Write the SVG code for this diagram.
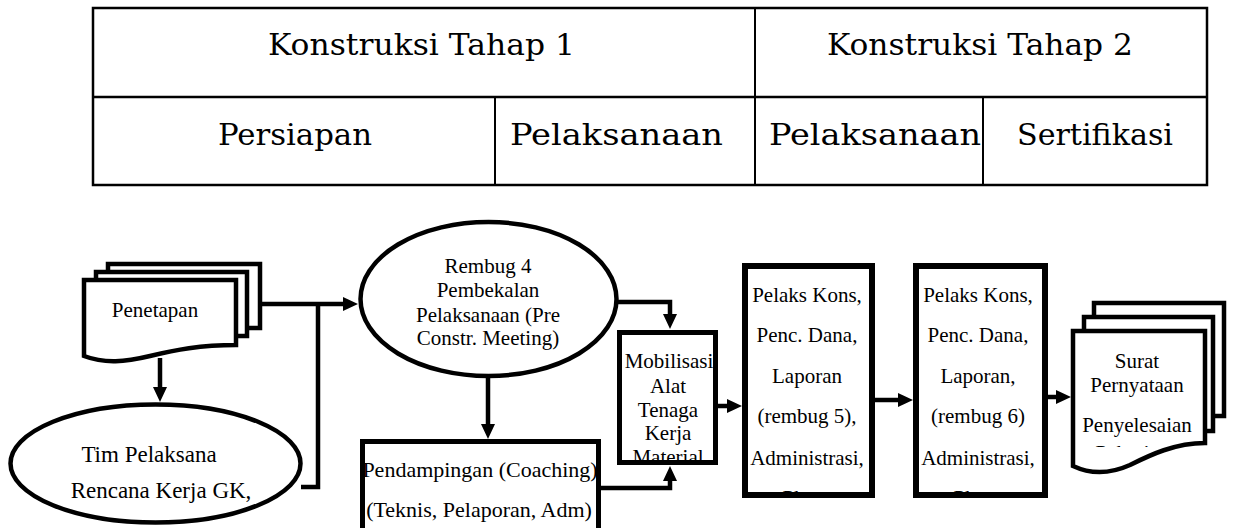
<svg xmlns="http://www.w3.org/2000/svg" width="1233" height="528" viewBox="0 0 1233 528">
<style>
.tl{stroke:#000;stroke-width:2.5;fill:none}
.tv{stroke:#000;stroke-width:2;fill:none}
.tt{font-family:"DejaVu Serif",serif;font-size:30px;fill:#000}
.sh{fill:#fff;stroke:#000;stroke-width:4.5}
.bx{fill:#fff;stroke:#000;stroke-width:6}
.ft{font-family:"Liberation Serif","Times New Roman",serif;font-size:21px;fill:#000;text-anchor:middle}
.lg{font-size:23px}
.md{font-size:22px}
.cn{fill:none;stroke:#000;stroke-width:4.5}
</style>
<defs>
<marker id="ah" markerUnits="userSpaceOnUse" markerWidth="16" markerHeight="16" refX="0" refY="7" orient="auto">
<path d="M0,0 L15,7 L0,14 Z" fill="#000"/>
</marker>
<clipPath id="cMob"><rect x="622" y="335" width="92" height="125"/></clipPath>
<clipPath id="cB1"><rect x="745" y="269" width="127" height="223"/></clipPath>
<clipPath id="cB2"><rect x="916" y="269" width="129" height="223"/></clipPath>
<clipPath id="cSur"><rect x="1073" y="331" width="132" height="116"/></clipPath>
</defs>

<g id="table">
<rect x="93" y="8" width="1114" height="177" class="tl"/>
<line x1="93" y1="97" x2="1207" y2="97" class="tl"/>
<line x1="755" y1="8" x2="755" y2="185" class="tv"/>
<line x1="495" y1="97" x2="495" y2="185" class="tv"/>
<line x1="983" y1="97" x2="983" y2="185" class="tv"/>
<text class="tt" x="268" y="55" textLength="307" lengthAdjust="spacingAndGlyphs">Konstruksi Tahap 1</text>
<text class="tt" x="827" y="55" textLength="306" lengthAdjust="spacingAndGlyphs">Konstruksi Tahap 2</text>
<text class="tt" x="218" y="145" textLength="154" lengthAdjust="spacingAndGlyphs">Persiapan</text>
<text class="tt" x="510" y="145" textLength="213" lengthAdjust="spacingAndGlyphs">Pelaksanaan</text>
<text class="tt" x="769" y="145" textLength="212" lengthAdjust="spacingAndGlyphs">Pelaksanaan</text>
<text class="tt" x="1017" y="145" textLength="156" lengthAdjust="spacingAndGlyphs">Sertifikasi</text>
</g>

<g id="connectors">
<path class="cn" d="M260,304 H343" marker-end="url(#ah)"/>
<path class="cn" d="M301,487 H318 V304"/>
<path class="cn" d="M160,358 V387" marker-end="url(#ah)"/>
<path class="cn" d="M488,376 V424" marker-end="url(#ah)"/>
<path class="cn" d="M614,302 H670 V314" marker-end="url(#ah)"/>
<path class="cn" d="M598,488 H670 V481" marker-end="url(#ah)"/>
<path class="cn" d="M715,406 H727" marker-end="url(#ah)"/>
<path class="cn" d="M872,400 H898" marker-end="url(#ah)"/>
<path class="cn" d="M1045,397 H1056" marker-end="url(#ah)"/>
</g>

<g id="penetapan">
<rect class="sh" x="108" y="264" width="152" height="64"/>
<rect class="sh" x="96" y="272" width="151" height="64"/>
<path class="sh" d="M84,280 H236 V345 C200,345 175,350 150,356 C125,362 105,364 84,356 Z"/>
<text class="ft" x="155" y="317">Penetapan</text>
</g>

<g id="tim-pelaksana">
<ellipse class="sh" cx="155.5" cy="463.5" rx="145" ry="59"/>
<text class="ft lg" x="149" y="462">Tim Pelaksana</text>
<text class="ft lg" x="161" y="498">Rencana Kerja GK,</text>
</g>

<g id="rembug">
<ellipse class="sh" cx="488.5" cy="299" rx="128" ry="77"/>
<text class="ft" x="488" y="273">Rembug 4</text>
<text class="ft" x="488" y="297">Pembekalan</text>
<text class="ft" x="488" y="322">Pelaksanaan (Pre</text>
<text class="ft" x="488" y="345">Constr. Meeting)</text>
</g>

<g id="pendampingan">
<rect class="bx" x="362.5" y="441.5" width="236" height="100" style="stroke-width:5"/>
<text class="ft md" x="480" y="477">Pendampingan (Coaching)</text>
<text class="ft md" x="479" y="517">(Teknis, Pelaporan, Adm)</text>
</g>

<g id="mobilisasi">
<rect class="bx" x="619.5" y="332.5" width="96" height="130" style="stroke-width:5"/>
<g clip-path="url(#cMob)">
<text class="ft" x="669" y="368">Mobilisasi</text>
<text class="ft" x="668" y="393">Alat</text>
<text class="ft" x="668" y="417">Tenaga</text>
<text class="ft" x="668" y="440">Kerja</text>
<text class="ft" x="668" y="464">Material</text>
</g>
</g>

<g id="pelaks-1">
<rect class="bx" x="745" y="266" width="127" height="229"/>
<g clip-path="url(#cB1)">
<text class="ft" x="807" y="302">Pelaks Kons,</text>
<text class="ft" x="807" y="342">Penc. Dana,</text>
<text class="ft" x="807" y="383">Laporan</text>
<text class="ft" x="807" y="423">(rembug 5),</text>
<text class="ft" x="807" y="465">Administrasi,</text>
<text class="ft" x="807" y="505">Photo</text>
</g>
</g>

<g id="pelaks-2">
<rect class="bx" x="916" y="266" width="129" height="229"/>
<g clip-path="url(#cB2)">
<text class="ft" x="978" y="302">Pelaks Kons,</text>
<text class="ft" x="978" y="342">Penc. Dana,</text>
<text class="ft" x="978" y="383">Laporan,</text>
<text class="ft" x="978" y="423">(rembug 6)</text>
<text class="ft" x="978" y="465">Administrasi,</text>
<text class="ft" x="978" y="505">Photo</text>
</g>
</g>

<g id="surat">
<rect class="sh" x="1094" y="303" width="130" height="113"/>
<rect class="sh" x="1084" y="317" width="129" height="114"/>
<path class="sh" d="M1073,331 H1205 V443 C1175,443 1150,455 1130,465 C1110,474 1090,474 1073,466 Z"/>
<g clip-path="url(#cSur)">
<text class="ft" x="1137" y="368">Surat</text>
<text class="ft" x="1137" y="392">Pernyataan</text>
<text class="ft" x="1137" y="432">Penyelesaian</text>
<text class="ft" x="1137" y="460">Pekerjaan</text>
</g>
</g>
</svg>
